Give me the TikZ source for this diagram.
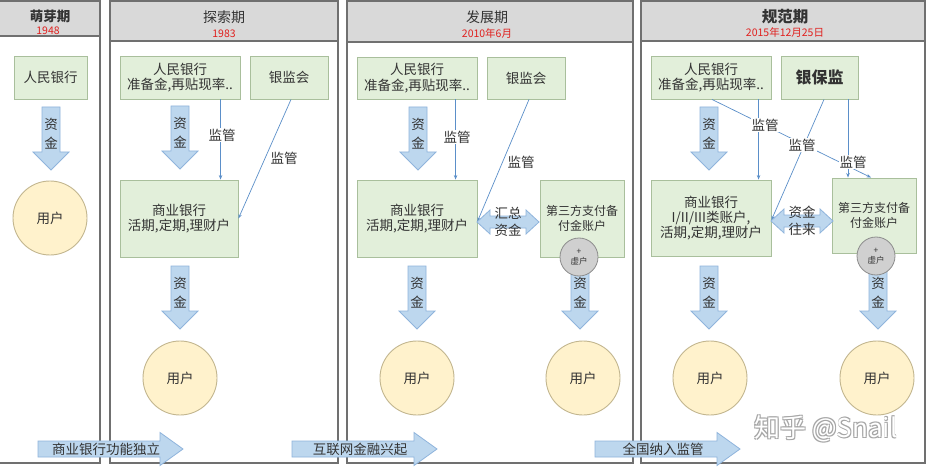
\documentclass[tikz,border=0pt]{standalone}
\usepackage{fontspec}
\setmainfont{Noto Sans CJK SC}
\usetikzlibrary{arrows.meta,calc}
\definecolor{boxfill}{HTML}{E2EFDA}
\definecolor{boxdraw}{HTML}{A9BF9C}
\definecolor{userfill}{HTML}{FFF2CC}
\definecolor{userdraw}{HTML}{C2B68F}
\definecolor{arrfill}{HTML}{BDD7EE}
\definecolor{arrdraw}{HTML}{8FB4DC}
\definecolor{headfill}{HTML}{D9D9D9}
\definecolor{panelc}{HTML}{707070}
\definecolor{linec}{HTML}{5B8FC9}
\definecolor{txt}{HTML}{333333}
\definecolor{redtxt}{HTML}{E0201E}
\definecolor{vfill}{HTML}{D0D0D0}
\definecolor{vdraw}{HTML}{8C8C8C}
\newcommand\fmain{\fontsize{13.5}{15.5}\selectfont}
\newcommand\fsmall{\fontsize{12}{15}\selectfont}
\tikzset{
 box/.style={draw=boxdraw, fill=boxfill, line width=0.9pt, inner sep=0pt, align=center, text=txt, font=\fmain},
 user/.style={circle, draw=userdraw, fill=userfill, line width=0.9pt, minimum size=74pt, inner sep=0pt, text=txt, font=\fmain},
 virt/.style={circle, draw=vdraw, fill=vfill, line width=0.8pt, minimum size=38pt, inner sep=0pt, align=center, text=txt, font=\fontsize{8.5}{10}\selectfont},
 bigarrow/.style={draw=arrdraw, fill=arrfill, line width=0.8pt},
 supline/.style={draw=linec, line width=0.7pt, -{Stealth[length=4.5pt,width=3.5pt]}},
 lab/.style={text=txt, font=\fmain, inner sep=1pt},
 labw/.style={lab, fill=white},
 headtxt/.style={text=txt, font=\fontsize{14}{15}\selectfont},
 yeartxt/.style={text=redtxt, font=\fontsize{10.5}{11}\selectfont},
 panel/.style={draw=panelc, line width=1.4pt},
 fatdown/.pic={
  \draw[bigarrow] (-9,0) -- (9,0) -- (9,45) -- (18,45) -- (0,63) -- (-18,45) -- (-9,45) -- cycle;
  \node[lab] (-a) at (0,17) {资};
  \node[lab] (-b) at (0,36) {金};
 },
 fatright/.pic={
  \draw[bigarrow] (0,-8) -- (122,-8) -- (122,-16.5) -- (145,0) -- (122,16.5) -- (122,8) -- (0,8) -- cycle;
  \node[lab, font=\fontsize{13.5}{15}\selectfont] (-t) at (68,0) {#1};
 },
 dbl/.pic={
  \draw[bigarrow] (0,0) -- (13,-12) -- (13,-6) -- (49,-6) -- (49,-12) -- (62,0) -- (49,12) -- (49,6) -- (13,6) -- (13,12) -- cycle;
  \node[lab, align=center, font=\fontsize{13.5}{16.5}\selectfont] (-t) at (31,0) {#1};
 }
}
\begin{document}
\begin{tikzpicture}[x=1pt,y=-1pt]
\useasboundingbox (0,0) rectangle (929,468);
\fill[white] (0,0) rectangle (929,468);
% panels
\fill[headfill] (-2,1) rectangle (100,36);
\draw[panel] (-2,1) rectangle (100,463);
\draw[panel] (-2,36) -- (100,36);
\fill[headfill] (110,1) rectangle (338,41);
\draw[panel] (110,1) rectangle (338,463);
\draw[panel] (110,41) -- (338,41);
\fill[headfill] (347,1) rectangle (633,42);
\draw[panel] (347,1) rectangle (633,463);
\draw[panel] (347,42) -- (633,42);
\fill[headfill] (641,1) rectangle (925,41);
\draw[panel] (641,1) rectangle (925,463);
\draw[panel] (641,41) -- (925,41);
% headers
\node[headtxt, font=\bfseries\fontsize{13.5}{15}\selectfont] (h1) at (50,16) {萌芽期};
\node[yeartxt] (y1) at (48,31) {1948};
\node[headtxt] (h2) at (224,17) {探索期};
\node[yeartxt] (y2) at (224,34) {1983};
\node[headtxt] (h3) at (487,17) {发展期};
\node[yeartxt] (y3) at (487,33) {2010年6月};
\node[headtxt, font=\bfseries\fontsize{15.5}{17}\selectfont] (h4) at (785,17) {规范期};
\node[yeartxt] (y4) at (785,32) {2015年12月25日};
% panel 1
\node[box, minimum width=73pt, minimum height=43pt] (pbc1) at (50.5,77.5) {人民银行};
\pic (a1) at (51,107) {fatdown};
\node[user] (u1) at (50,218) {用户};
% panel 2
\node[box, minimum width=120pt, minimum height=43pt] (pbc2) at (180,77.5) {人民银行\\准备金,再贴现率..};
\node[box, minimum width=78pt, minimum height=43pt] (cbrc2) at (289,77.5) {银监会};
\node[box, minimum width=118pt, minimum height=77pt] (bank2) at (179,218.5) {商业银行\\活期,定期,理财户};
\pic (a2) at (180,106) {fatdown};
\pic (a3) at (180,266) {fatdown};
\node[user] (u2) at (180,378) {用户};
\draw[supline] ([xshift=101pt]pbc2.south west) coordinate (c2a) -- (c2a |- bank2.north);
\draw[supline] ([xshift=2pt]cbrc2.south) -- (bank2.east);
\node[labw] (l2a) at (222,135) {监管};
\node[lab] (l2b) at (284,158) {监管};
% panel 3
\node[box, minimum width=120pt, minimum height=42pt] (pbc3) at (417,78) {人民银行\\准备金,再贴现率..};
\node[box, minimum width=78pt, minimum height=42pt] (cbrc3) at (526,78) {银监会};
\node[box, minimum width=120pt, minimum height=77pt] (bank3) at (417,218.5) {商业银行\\活期,定期,理财户};
\node[box, minimum width=84pt, minimum height=77pt, font=\fsmall] (tp3) at (582,218.5) {第三方支付备\\付金账户};
\pic (a4) at (418,107) {fatdown};
\pic (a5) at (417,266) {fatdown};
\pic (a6) at (580,266) {fatdown};
\node[virt] (v3) at (579,257) {+\\虚户};
\node[user] (u3a) at (417,378) {用户};
\node[user] (u3b) at (583,378) {用户};
\draw[supline] ([xshift=99pt]pbc3.south west) coordinate (c3a) -- (c3a |- bank3.north);
\draw[supline] ([xshift=3pt]cbrc3.south) -- ([yshift=-3pt]bank3.east);
\node[labw] (l3a) at (457,137) {监管};
\node[lab] (l3b) at (521,162) {监管};
\pic (d3) at (477,222) {dbl={汇总\\资金}};
% panel 4
\node[box, minimum width=120pt, minimum height=43pt] (pbc4) at (711,77.5) {人民银行\\准备金,再贴现率..};
\node[box, minimum width=77pt, minimum height=43pt, font=\bfseries\fontsize{16}{17}\selectfont] (cbirc4) at (819.5,77.5) {银保监};
\node[box, minimum width=120pt, minimum height=76pt, font=\fontsize{13.5}{15}\selectfont] (bank4) at (711,218) {商业银行\\I/II/III类账户,\\活期,定期,理财户};
\node[box, minimum width=84pt, minimum height=75pt, font=\fsmall] (tp4) at (874,215.5) {第三方支付备\\付金账户};
\pic (a7) at (709,107) {fatdown};
\pic (a8) at (709,266) {fatdown};
\pic (a9) at (878,266) {fatdown};
\node[virt] (v4) at (876,256) {+\\虚户};
\node[user] (u4a) at (710,378) {用户};
\node[user] (u4b) at (877,378) {用户};
\draw[supline] ([xshift=108pt]pbc4.south west) coordinate (c4a) -- (c4a |- bank4.north);
\draw[supline] ([xshift=1pt]pbc4.south) -- ([xshift=-3pt]tp4.north);
\draw[supline] ([xshift=28.5pt]cbirc4.south) coordinate (c4c) -- (c4c |- tp4.north);
\draw[supline] ([xshift=4.5pt]cbirc4.south) -- ([yshift=-2pt]bank4.east);
\node[labw] (l4a) at (765,125) {监管};
\node[labw] (l4b) at (802,145) {监管};
\node[labw] (l4c) at (853,162) {监管};
\pic (d4) at (771,221) {dbl={资金\\往来}};
% bottom arrows
\pic (b1) at (38,449) {fatright={商业银行功能独立}};
\pic (b2) at (292,449) {fatright={互联网金融兴起}};
\pic (b3) at (595,449) {fatright={全国纳入监管}};
% watermark
\foreach \dx/\dy in {0.7/0.7,-0.7/0.7,0.7/-0.7,-0.7/-0.7}{
  \node[text=gray!70, font=\fontsize{26}{28}\selectfont, inner sep=0] at (826+\dx,429+\dy) {知乎 @Snail};
}
\node[text=white, font=\fontsize{26}{28}\selectfont, inner sep=0] (wm) at (826,429) {知乎 @Snail};
\end{tikzpicture}
\end{document}
